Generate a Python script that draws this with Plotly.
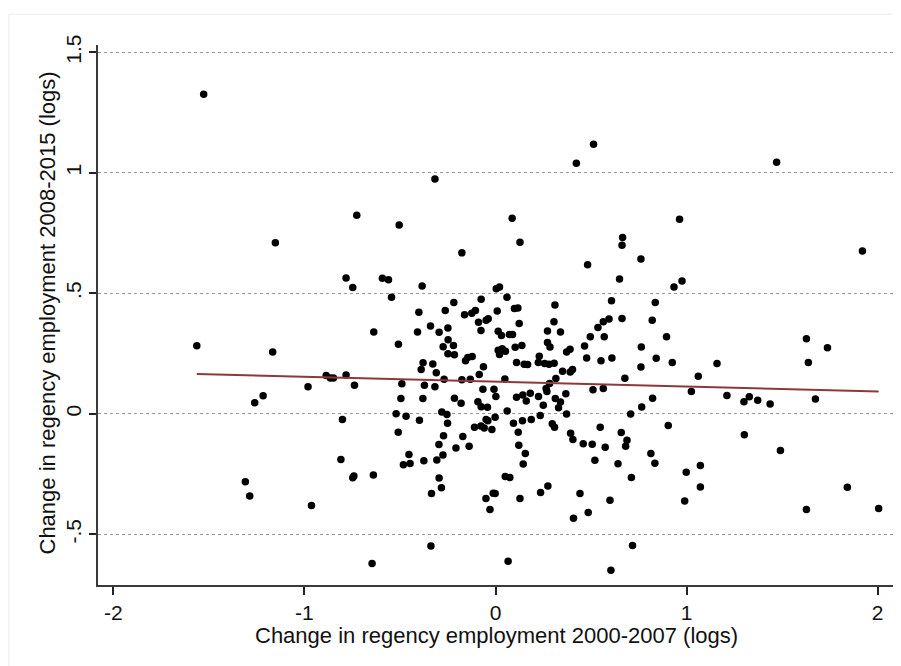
import numpy as np
import plotly.graph_objects as go

# Change in regency employment 2000-2007 (x) and 2008-2015 (y), logs
emp_change_2000_2007 = [
    -1.527, -1.152, -1.563, -1.166, -1.216, -1.260, -0.981, -0.886, -0.864, -0.848, -1.309, -1.286, -0.963,
    1.471, 1.920, 1.159, 1.627, 1.737, 1.637, 1.211, 1.300, 1.328, 1.372, 1.437, 1.674, 1.302, 1.491, 1.841, 1.627, 2.005,
    -0.317, 0.423, 0.513,
    -0.726, -0.504, -0.782, -0.747, -0.592, -0.560, -0.384, -0.544, -0.401, -0.637, -0.408, -0.508, -0.379, -0.389, -0.782, -0.738, -0.490, -0.372, -0.495, -0.380,
    -0.801, -0.520, -0.468, -0.398, -0.509, -0.809, -0.453, -0.482, -0.447, -0.375, -0.747, -0.741, -0.639, -0.646,
    0.087, 0.128, -0.176, 0.004, 0.021, 0.060, -0.218, -0.075, -0.263, -0.162, -0.124, -0.105, 0.009, 0.099, 0.117,
    -0.089, -0.049, -0.038, 0.124, -0.340, -0.295, -0.249, -0.076, 0.014, 0.031, 0.073, 0.089, -0.248, -0.220, -0.274,
    -0.249, -0.215, 0.014, 0.035, 0.052, 0.021, 0.103, 0.110, -0.122, -0.145, -0.157, -0.328, -0.310, -0.063, -0.085,
    -0.269, -0.176, -0.132, 0.049, -0.317, -0.066, -0.008, 0.002, -0.215, 0.110, -0.092, -0.180,
    -0.075, -0.042, -0.281, -0.254, -0.251, -0.049, -0.040, -0.002, 0.061, 0.094, 0.119, -0.110, -0.076, -0.059, -0.019,
    -0.272, -0.171, -0.296, -0.207, -0.138, 0.122, -0.307, -0.275, -0.295, -0.283, -0.335, 0.051, 0.075, -0.050, -0.012,
    -0.002, -0.029, 0.128, -0.338, 0.066,
    0.482, 0.311, 0.607, 0.306, 0.594, 0.564, 0.536, 0.272, 0.340, 0.496, 0.569, 0.272, 0.285, 0.138, 0.466, 0.390,
    0.372, 0.477, 0.609, 0.552, 0.229, 0.224, 0.150, 0.168, 0.257, 0.280, 0.307, 0.351, 0.391, 0.403, 0.316, 0.283,
    0.265, 0.269, 0.510, 0.564, 0.368, 0.143, 0.182, 0.225, 0.161, 0.313, 0.340, 0.250,
    0.330, 0.372, 0.234, 0.187, 0.141, 0.297, 0.309, 0.393, 0.405, 0.548, 0.459, 0.506, 0.574, 0.520, 0.156, 0.145,
    0.274, 0.236, 0.442, 0.599, 0.485, 0.408, 0.604,
    0.963, 0.665, 0.662, 0.761, 0.649, 0.976, 0.934, 0.836, 0.662, 0.820, 0.895, 0.763, 0.841, 0.925, 0.761, 0.677,
    1.061, 1.025, 0.822,
    0.765, 0.707, 0.904, 0.658, 0.688, 0.681, 0.813, 0.834, 0.641, 0.711, 0.998, 1.072, 1.072, 0.990, 0.717,
]
emp_change_2008_2015 = [
    1.326, 0.710, 0.282, 0.257, 0.075, 0.046, 0.112, 0.159, 0.149, 0.149, -0.282, -0.341, -0.380,
    1.044, 0.675, 0.209, 0.311, 0.274, 0.213, 0.076, 0.050, 0.071, 0.056, 0.041, 0.062, -0.087, -0.152, -0.305, -0.397, -0.393,
    0.974, 1.040, 1.118,
    0.824, 0.783, 0.563, 0.524, 0.562, 0.556, 0.530, 0.484, 0.421, 0.339, 0.339, 0.289, 0.212, 0.184, 0.161, 0.119, 0.125, 0.119, 0.064, 0.064,
    -0.023, 0.000, -0.010, -0.027, -0.076, -0.189, -0.169, -0.211, -0.206, -0.195, -0.265, -0.258, -0.254, -0.621,
    0.811, 0.712, 0.668, 0.519, 0.526, 0.484, 0.462, 0.475, 0.429, 0.411, 0.417, 0.429, 0.427, 0.437, 0.439,
    0.380, 0.388, 0.394, 0.375, 0.364, 0.338, 0.356, 0.346, 0.343, 0.325, 0.329, 0.329, 0.307, 0.284, 0.278,
    0.249, 0.245, 0.264, 0.270, 0.260, 0.246, 0.276, 0.213, 0.238, 0.234, 0.220, 0.207, 0.170, 0.195, 0.163,
    0.144, 0.141, 0.143, 0.145, 0.112, 0.102, 0.102, 0.072, 0.065, 0.069, 0.050, 0.044,
    0.029, 0.027, 0.008, -0.003, -0.039, -0.023, -0.029, -0.014, 0.012, -0.039, -0.076, -0.056, -0.050, -0.059, -0.065,
    -0.091, -0.094, -0.127, -0.142, -0.134, -0.130, -0.191, -0.171, -0.266, -0.307, -0.330, -0.260, -0.264, -0.351, -0.329,
    -0.330, -0.397, -0.351, -0.548, -0.611,
    0.618, 0.451, 0.469, 0.382, 0.393, 0.382, 0.358, 0.344, 0.339, 0.320, 0.320, 0.296, 0.277, 0.284, 0.281, 0.268,
    0.257, 0.232, 0.232, 0.220, 0.239, 0.213, 0.206, 0.205, 0.209, 0.206, 0.210, 0.177, 0.174, 0.184, 0.147, 0.126,
    0.105, 0.093, 0.100, 0.105, 0.083, 0.078, 0.085, 0.072, 0.053, 0.064, 0.049, 0.036,
    0.025, -0.001, -0.007, -0.023, -0.029, -0.041, -0.056, -0.080, -0.106, -0.056, -0.124, -0.126, -0.139, -0.192, -0.164, -0.208,
    -0.299, -0.326, -0.330, -0.358, -0.409, -0.433, -0.649,
    0.807, 0.732, 0.699, 0.642, 0.559, 0.551, 0.526, 0.462, 0.396, 0.388, 0.320, 0.277, 0.231, 0.213, 0.194, 0.148,
    0.156, 0.093, 0.065,
    0.028, -0.001, -0.048, -0.077, -0.110, -0.134, -0.164, -0.205, -0.207, -0.264, -0.242, -0.214, -0.303, -0.362, -0.546,
]

x_tick_vals = [-2, -1, 0, 1, 2]
x_tick_text = ["-2", "-1", "0", "1", "2"]
y_tick_vals = [-0.5, 0, 0.5, 1, 1.5]
y_tick_text = ["-.5", "0", ".5", "1", "1.5"]
x_title = "Change in regency employment 2000-2007 (logs)"
y_title = "Change in regency employment 2008-2015 (logs)"

x_arr = np.array(emp_change_2000_2007)
y_arr = np.array(emp_change_2008_2015)
slope, intercept = np.polyfit(x_arr, y_arr, 1)
fit_x = np.array([x_arr.min(), x_arr.max()])
fit_y = intercept + slope * fit_x

FONT = "Liberation Sans, Arial, Helvetica, sans-serif"

fig = go.Figure()
fig.add_trace(go.Scatter(
    x=emp_change_2000_2007, y=emp_change_2008_2015, mode="markers",
    marker=dict(color="black", size=7.5, line=dict(width=0)),
    showlegend=False, hoverinfo="x+y",
))
fig.add_trace(go.Scatter(
    x=fit_x, y=fit_y, mode="lines",
    line=dict(color="#8b3a3a", width=2),
    showlegend=False,
))

# page body adds an 8px offset; margins compensate so the plot area lands where it should
fig.update_layout(
    width=901, height=666,
    paper_bgcolor="white", plot_bgcolor="white",
    margin=dict(l=90, r=16, t=37, b=89, autoexpand=False),
    font=dict(family=FONT, size=20, color="#111111"),
    xaxis=dict(
        range=[-2.08, 2.08], tickvals=x_tick_vals, ticktext=x_tick_text,
        showgrid=False, zeroline=False, automargin=False,
        showline=True, linecolor="#3a3a3a", linewidth=2,
        ticks="outside", ticklen=8, tickwidth=1.5, tickcolor="#222222",
        tickfont=dict(size=21),
    ),
    yaxis=dict(
        range=[-0.71, 1.53], tickvals=y_tick_vals, ticktext=y_tick_text,
        tickangle=-90, automargin=False,
        showgrid=True, gridcolor="#9a9a9a", griddash="dot", gridwidth=1,
        zeroline=False,
        showline=True, linecolor="#3a3a3a", linewidth=1.5,
        ticks="outside", ticklen=7, tickwidth=1.5, tickcolor="#222222",
        tickfont=dict(size=21),
    ),
    annotations=[
        dict(text=x_title, xref="paper", yref="paper", x=0.501, y=-0.0926,
             xanchor="center", yanchor="middle", showarrow=False, font=dict(size=22)),
        dict(text=y_title, xref="paper", yref="paper", x=-0.064, y=0.503, textangle=-90,
             xanchor="center", yanchor="middle", showarrow=False, font=dict(size=22)),
    ],
    shapes=[
        dict(type="line", xref="paper", yref="paper", x0=-0.112, x1=1.02, y0=1.057, y1=1.057,
             line=dict(color="#e6ecef", width=1)),
        dict(type="line", xref="paper", yref="paper", x0=-0.112, x1=-0.112, y0=-0.2, y1=1.057,
             line=dict(color="#e6ecef", width=1)),
    ],
)

fig.write_html("out.html")
